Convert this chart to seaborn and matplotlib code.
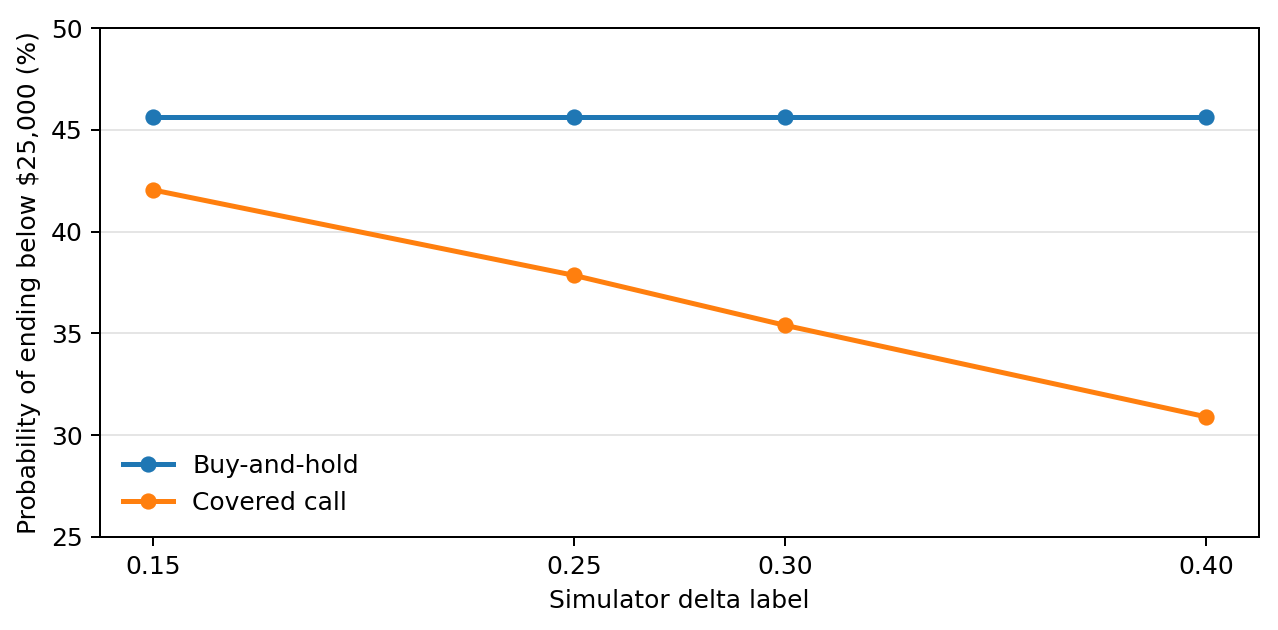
import matplotlib
matplotlib.use("Agg")
import matplotlib.pyplot as plt
import seaborn as sns
import pandas as pd

# delta labels used by the simulator
deltas = [0.15, 0.25, 0.30, 0.40]
buy_hold = [45.65, 45.65, 45.65, 45.65]
covered_call = [42.05, 37.85, 35.4, 30.9]

df = pd.DataFrame({
    "delta": deltas * 2,
    "prob": buy_hold + covered_call,
    "strategy": ["Buy-and-hold"] * 4 + ["Covered call"] * 4,
})

plt.rcParams["font.family"] = ["DejaVu Sans"]

fig = plt.figure(figsize=(7.1, 3.5), dpi=180)
ax = fig.add_axes([100 / 1278, 1 - 537 / 630, 1159 / 1278, 509 / 630])

sns.lineplot(data=df, x="delta", y="prob", hue="strategy",
             palette=["#1f77b4", "#ff7f0e"], marker="o", markersize=6.5,
             markeredgewidth=0, linewidth=2, ax=ax)

ax.set_ylim(25, 50)
ax.set_xticks(deltas)
ax.set_xticklabels([f"{d:.2f}" for d in deltas])
ax.set_xlabel("Simulator delta label")
ax.set_ylabel("Probability of ending below $25,000 (%)")
ax.grid(axis="y", color="#e5e5e5", linewidth=0.8)
ax.set_axisbelow(True)
ax.legend(title=None, loc="lower left", frameon=False)

fig.savefig("out.png", dpi=180)
